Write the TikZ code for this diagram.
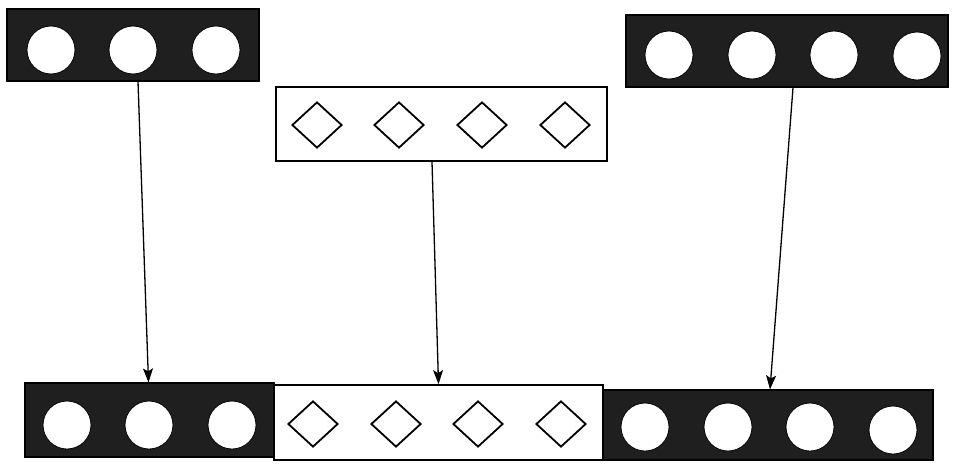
\documentclass[tikz,border=0pt]{standalone}
\usetikzlibrary{shapes.geometric,arrows.meta,calc}
\begin{document}
\begin{tikzpicture}[x=1pt,y=-1pt,
  darkbox/.style={draw=black,fill=black!88,line width=1.2pt,inner sep=0pt},
  lightbox/.style={draw=black,fill=white,line width=1.8pt,inner sep=0pt},
  hole/.style={circle,draw=black,fill=white,line width=0.8pt,minimum size=48pt,inner sep=0pt},
  gem/.style={diamond,draw=black,fill=white,line width=1.8pt,minimum width=50pt,minimum height=46pt,inner sep=0pt},
  arr/.style={draw=black,line width=1.3pt,-{Stealth[length=14pt,width=10pt,inset=3pt]}}]
\useasboundingbox (0,0) rectangle (953,466);
% top row
\node[darkbox,minimum width=252pt,minimum height=72pt] (tl) at (133,45) {};
\node[hole] (tl1) at (51,50) {};
\node[hole] (tl2) at (133,50) {};
\node[hole] (tl3) at (216,50) {};
\node[lightbox,minimum width=331pt,minimum height=74pt] (tm) at (441.5,124) {};
\node[gem] (tm1) at (317,125) {};
\node[gem] (tm2) at (399,125) {};
\node[gem] (tm3) at (482,125) {};
\node[gem] (tm4) at (565,125) {};
\node[darkbox,minimum width=322pt,minimum height=72pt] (tr) at (787,51) {};
\node[hole] (tr1) at (669,55) {};
\node[hole] (tr2) at (752,55) {};
\node[hole] (tr3) at (834,55) {};
\node[hole] (tr4) at (917,56) {};
% bottom row
\node[darkbox,minimum width=249pt,minimum height=74pt] (bl) at (149.5,420) {};
\node[hole] (bl1) at (67,425) {};
\node[hole] (bl2) at (149,425) {};
\node[hole] (bl3) at (232,425) {};
\node[lightbox,minimum width=329pt,minimum height=75pt] (bm) at (438.5,422.5) {};
\node[gem] (bm1) at (313,424) {};
\node[gem] (bm2) at (396,424) {};
\node[gem] (bm3) at (478,424) {};
\node[gem] (bm4) at (561,424) {};
\node[darkbox,minimum width=330pt,minimum height=70pt] (br) at (768,425) {};
\node[hole] (br1) at (645,427) {};
\node[hole] (br2) at (728,427) {};
\node[hole] (br3) at (810,427) {};
\node[hole] (br4) at (893,430) {};
% connectors
\draw[arr] ([xshift=5pt]tl.south) -- ([xshift=-1pt]bl.north);
\draw[arr] ([xshift=-9.5pt]tm.south) -- (bm.north);
\draw[arr] ([xshift=6pt]tr.south) -- ([xshift=2pt]br.north);
\end{tikzpicture}
\end{document}
